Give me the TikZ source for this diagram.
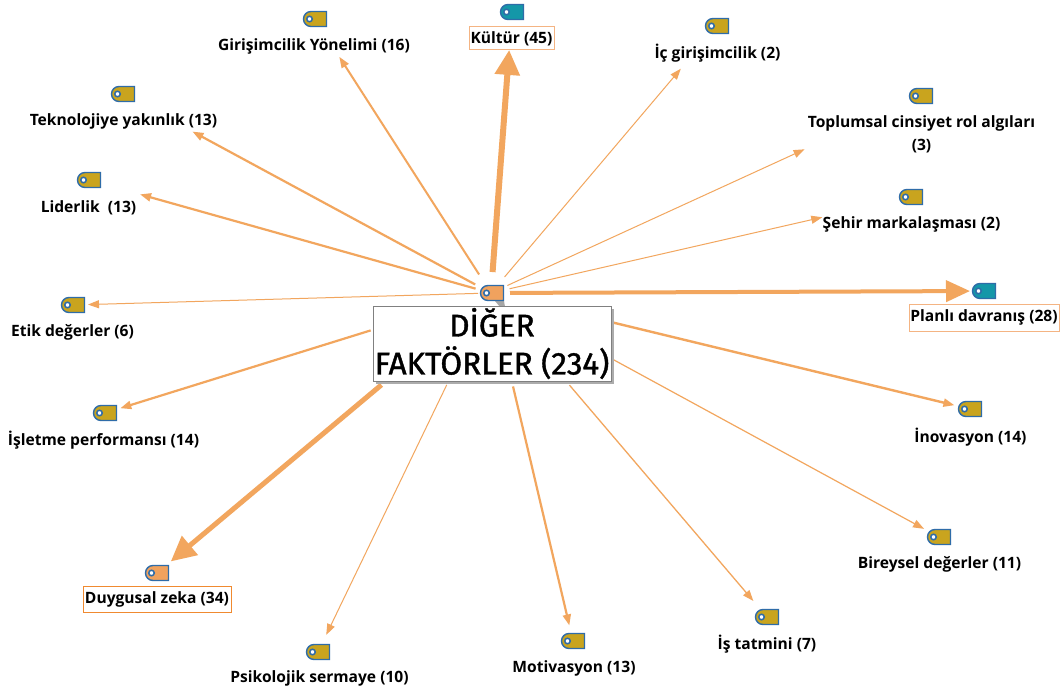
\documentclass[tikz,border=0pt]{standalone}
\usepackage{fontspec}
\setmainfont{Open Sans}
\newfontfamily\hubfont[FakeBold=1.2]{Fira Sans}
\usetikzlibrary{arrows.meta,shapes.misc}
\definecolor{orangeline}{HTML}{F2A65E}
\definecolor{tagblue}{HTML}{2F6CA8}
\definecolor{gold}{HTML}{C9A41E}
\definecolor{teal}{HTML}{1497A8}
\definecolor{tagorange}{HTML}{F0A25E}
\definecolor{boxline}{HTML}{F4B483}
\definecolor{boxstrong}{HTML}{F08A30}
\tikzset{
  x=1pt,y=-1pt,
  tagshape/.style={rounded rectangle,rounded rectangle right arc=none,minimum width=23pt,minimum height=15pt,inner sep=0pt,draw=tagblue,line width=1.4pt,fill=#1},
  tagdot/.style={circle,minimum size=5.5pt,inner sep=0pt,draw=tagblue,line width=1.5pt,fill=white},
  lab/.style={font=\fontsize{15.6}{23}\selectfont\bfseries,inner sep=0pt,align=center,text=black,yshift=-1.5pt},
  labbox/.style={lab,draw=#1,line width=1pt,fill=white,inner sep=0pt},
  conn/.style={draw=orangeline,line width=#1},
  thin arrow/.style={-{Triangle[length=11pt,width=8pt]}},
  big arrow/.style={-{Triangle[length=25pt,width=24pt]}},
}
\newcommand\tagn[3]{%
  \node[tagshape=#3] (#1) at (#2) {};
  \node[tagdot] (#1dot) at ([xshift=-5.5pt]#1.center) {};}
\newcommand\conn[5]{% target, width, start, end, arrow style
  \draw[conn=#2,#5,shorten <=#3pt,shorten >=#4pt] (hub.center) -- (#1.center);}
\begin{document}
\begin{tikzpicture}
\useasboundingbox (0,0) rectangle (1061,690);
\fill[white] (0,0) rectangle (1061,690);
\coordinate (hub) at (491,293);
\coordinate (ag) at (315,19);
\coordinate (ak) at (512,12);
\coordinate (ai) at (717,26);
\coordinate (at) at (921,96);
\coordinate (as) at (911,197);
\coordinate (ap) at (984,291);
\coordinate (an) at (970,409);
\coordinate (ab) at (939,537);
\coordinate (aj) at (767,617);
\coordinate (am) at (573,641);
\coordinate (ao) at (318,652);
\coordinate (ad) at (157,573);
\coordinate (ae) at (105,413);
\coordinate (af) at (73,305);
\coordinate (al) at (89,180);
\coordinate (ay) at (123,94);
% connectors
\conn{ag}{2}{22}{45}{thin arrow}
\conn{ak}{6}{21}{38}{big arrow}
\conn{ai}{1}{21}{56}{thin arrow}
\conn{at}{1}{18}{128}{thin arrow}
\conn{as}{1}{19}{91}{thin arrow}
\draw[conn=4,-{Triangle[length=24pt,width=21pt]},shorten <=19pt,shorten >=14pt] (hub.center) -- (ap.center);
\conn{an}{2.4}{126}{16}{thin arrow}
\conn{ab}{1.2}{137}{17}{thin arrow}
\conn{aj}{1.3}{121}{21}{thin arrow}
\conn{am}{2.2}{96}{16}{thin arrow}
\conn{ao}{1}{102}{19}{thin arrow}
\draw[conn=5,-{Triangle[length=25pt,width=24pt]},shorten <=143pt,shorten >=18pt] (hub.center) -- (ad.center);
\conn{ae}{2.2}{126}{16}{thin arrow}
\conn{af}{1}{13}{15}{thin arrow}
\conn{al}{2.2}{16}{53}{thin arrow}
\conn{ay}{2.2}{18}{79}{thin arrow}
% tags
\tagn{tg}{315,19}{gold}
\tagn{tk}{512,12}{teal}
\tagn{ti}{717,26}{gold}
\tagn{tt}{921,96}{gold}
\tagn{ts}{911,197}{gold}
\tagn{tp}{984,291}{teal}
\tagn{tn}{970,409}{gold}
\tagn{tb}{939,537}{gold}
\tagn{tj}{767,617}{gold}
\tagn{tm}{573,641}{gold}
\tagn{to}{318,652}{gold}
\tagn{td}{157,573}{tagorange}
\tagn{te}{105,413}{gold}
\tagn{tf}{73,305}{gold}
\tagn{tl}{89,180}{gold}
\tagn{ty}{123,94}{gold}
% hub
\fill[gray!70] (495,301) -- (504,301) -- (505,307) -- (500,307) -- cycle;
\tagn{thub}{492,293}{tagorange}
\fill[gray!65] (376,309) rectangle (614,384);
\node[draw=gray,line width=1pt,fill=white,minimum width=238pt,minimum height=75pt,inner sep=0pt,align=center,
  font=\hubfont\fontsize{31.5}{38}\selectfont] (hubbox) at (492,343.5) {DİĞER\\FAKTÖRLER (234)};
% labels
\node[lab] (lg) at (314,45) {Girişimcilik Yönelimi (16)};
\node[labbox=boxline,minimum width=85pt,minimum height=23pt,yshift=1.5pt] (lk) at (511.5,38.5) {\raisebox{-1pt}{Kültür (45)}};
\node[lab] (li) at (717.5,52) {İç girişimcilik (2)};
\node[lab] (lt) at (921.5,132.5) {Toplumsal cinsiyet rol algıları\\(3)};
\node[lab] (ls) at (911.5,223) {Şehir markalaşması (2)};
\node[labbox=boxline,minimum width=150pt,minimum height=27pt,yshift=1.5pt] (lp) at (984,317.5) {\raisebox{-1.5pt}{Planlı davranış (28)}};
\node[lab] (ln) at (970.5,436) {İnovasyon (14)};
\node[lab] (lb) at (939.5,563) {Bireysel değerler (11)};
\node[lab] (lj) at (767,643) {İş tatmini (7)};
\node[lab] (lm) at (574,667) {Motivasyon (13)};
\node[lab] (lo) at (319.5,677) {Psikolojik sermaye (10)};
\node[labbox=boxstrong,minimum width=148pt,minimum height=26pt,yshift=1.5pt] (ld) at (157,599) {\raisebox{-1.5pt}{Duygusal zeka (34)}};
\node[lab] (le) at (103.5,439) {İşletme performansı (14)};
\node[lab] (lf) at (72.5,331) {Etik değerler (6)};
\node[lab] (ll) at (88.5,206) {Liderlik\ \ (13)};
\node[lab] (ly) at (123.5,120) {Teknolojiye yakınlık (13)};
\end{tikzpicture}
\end{document}
